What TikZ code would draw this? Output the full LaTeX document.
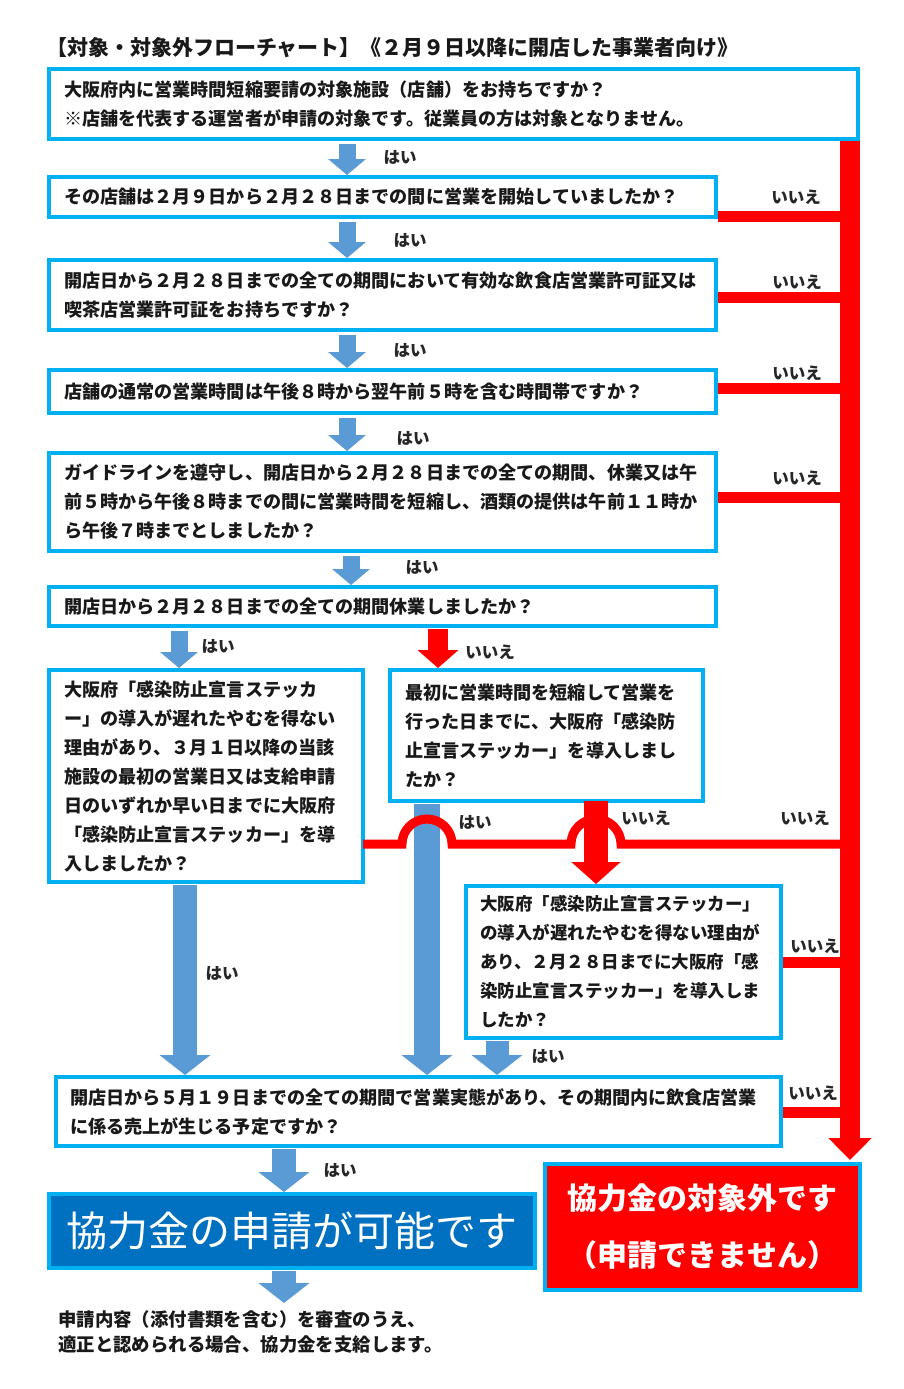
\documentclass[tikz,border=0pt]{standalone}
\usepackage{fontspec}
\setmainfont{Noto Sans CJK JP}
\usetikzlibrary{arrows.meta,calc}
\definecolor{cyanb}{RGB}{0,176,240}
\definecolor{bluea}{RGB}{91,155,213}
\definecolor{redc}{RGB}{255,0,0}
\definecolor{blueres}{RGB}{0,112,192}
\begin{document}
\begin{tikzpicture}[x=1pt,y=1pt,
  box/.style={draw=cyanb, line width=4.5pt, fill=white, anchor=north west, outer sep=0pt,
    inner xsep=15pt, inner ysep=0pt, align=left,
    font=\fontsize{18.1}{29}\selectfont\bfseries, text=black!90},
  lab/.style={font=\fontsize{16.5}{18}\selectfont\bfseries, text=black!85, inner sep=0pt},
  bsmall/.style={draw=bluea, line width=17pt, -{Triangle[length=16pt,width=37pt]}, shorten <=5pt, shorten >=2pt},
  bbig/.style={draw=bluea, line width=24pt, -{Triangle[length=20pt,width=50pt]}, shorten <=3pt, shorten >=2pt},
  rarrow/.style={draw=redc, line width=20pt, -{Triangle[length=18pt,width=40pt]}, shorten <=3pt, shorten >=2pt},
  rbig/.style={draw=redc, line width=24pt, -{Triangle[length=22pt,width=48pt]}, shorten <=0pt, shorten >=2pt},
  rbus/.style={draw=redc, line width=20pt, -{Triangle[length=22pt,width=42pt]}, shorten <=2pt, shorten >=4pt},
  rline/.style={draw=redc, line width=11pt},
  rhop/.style={draw=redc, line width=9pt},
]
\fill[white] (0,0) rectangle (904,-1389);
\useasboundingbox (0,0) rectangle (904,-1389);

% title
\node[anchor=west, inner sep=0pt, font=\fontsize{21}{23}\selectfont\bfseries, text=black!90] (title) at (46,-48)
  {【対象・対象外フローチャート】《２月９日以降に開店した事業者向け》};

% coordinates for connector columns
\coordinate (busx) at (850,0);
\coordinate (busl) at (840,0);
\coordinate (ca) at (347,0);
\coordinate (cb) at (351,0);
\coordinate (c6) at (179,0);
\coordinate (cr6) at (438,0);
\coordinate (c8) at (427,0);
\coordinate (c7) at (185,0);
\coordinate (cr8) at (596,0);
\coordinate (c9) at (497,0);
\coordinate (c10) at (284,0);
\coordinate (endarr) at (284,-1305);

% red branches (under boxes and bus)
\draw[rline] (718,-216) -- (busx |- 0,-216);
\draw[rline] (718,-297) -- (busx |- 0,-297);
\draw[rline] (718,-388) -- (busx |- 0,-388);
\draw[rline] (718,-497) -- (busx |- 0,-497);
\draw[rline] (783,-962) -- (busx |- 0,-962);
\draw[rline] (783,-1112) -- (busx |- 0,-1112);

% boxes
\node[box, minimum width=809pt, minimum height=70pt, text width=779pt] (b1) at (49,-69)
  {大阪府内に営業時間短縮要請の対象施設（店舗）をお持ちですか？\\※店舗を代表する運営者が申請の対象です。従業員の方は対象となりません。};
\node[box, minimum width=667pt, minimum height=40pt, text width=637pt] (b2) at (49,-177)
  {その店舗は２月９日から２月２８日までの間に営業を開始していましたか？};
\node[box, minimum width=667pt, minimum height=70pt, text width=637pt] (b3) at (49,-260)
  {開店日から２月２８日までの全ての期間において有効な飲食店営業許可証又は\\喫茶店営業許可証をお持ちですか？};
\node[box, minimum width=667pt, minimum height=43pt, text width=637pt] (b4) at (49,-370)
  {店舗の通常の営業時間は午後８時から翌午前５時を含む時間帯ですか？};
\node[box, minimum width=667pt, minimum height=98pt, text width=637pt] (b5) at (49,-453)
  {ガイドラインを遵守し、開店日から２月２８日までの全ての期間、休業又は午\\前５時から午後８時までの間に営業時間を短縮し、酒類の提供は午前１１時か\\ら午後７時までとしましたか？};
\node[box, minimum width=667pt, minimum height=39pt, text width=637pt] (b6) at (49,-587)
  {開店日から２月２８日までの全ての期間休業しましたか？};
\node[box, minimum width=314pt, minimum height=212pt, text width=284pt] (b7) at (49,-670)
  {大阪府「感染防止宣言ステッカ\\ー」の導入が遅れたやむを得ない\\理由があり、３月１日以降の当該\\施設の最初の営業日又は支給申請\\日のいずれか早い日までに大阪府\\「感染防止宣言ステッカー」を導\\入しましたか？};
\node[box, minimum width=313pt, minimum height=131pt, text width=283pt] (b8) at (390,-670)
  {最初に営業時間を短縮して営業を\\行った日までに、大阪府「感染防\\止宣言ステッカー」を導入しまし\\たか？};
\node[box, minimum width=315pt, minimum height=152pt, text width=287pt, inner xsep=14pt,
  font=\fontsize{17.5}{29}\selectfont\bfseries] (b9) at (466,-886)
  {大阪府「感染防止宣言ステッカー」\\の導入が遅れたやむを得ない理由が\\あり、２月２８日までに大阪府「感\\染防止宣言ステッカー」を導入しま\\したか？};
\node[box, minimum width=725pt, minimum height=69pt, text width=697pt, inner xsep=14pt] (b10) at (56,-1077)
  {開店日から５月１９日までの全ての期間で営業実態があり、その期間内に飲食店営業\\に係る売上が生じる予定ですか？};
\node[box, fill=blueres, minimum width=486pt, minimum height=74pt, text width=470pt, inner xsep=8pt,
  align=center, text=white, font=\fontsize{41}{44}\selectfont] (ok) at (49,-1194)
  {協力金の申請が可能です};
\node[box, fill=redc, minimum width=315pt, minimum height=126pt, text width=300pt, inner xsep=7pt,
  align=center, text=white, font=\fontsize{30}{57}\selectfont\bfseries] (ng) at (545,-1164)
  {協力金の対象外です\\（申請できません）};

% red bus
\draw[rbus] (b1.south -| busx) -- (ng.north -| busx);

% blue arrows main column
\draw[bsmall] (b1.south -| ca) -- (b2.north -| ca);
\draw[bsmall] (b2.south -| ca) -- (b3.north -| ca);
\draw[bsmall] (b3.south -| ca) -- (b4.north -| ca);
\draw[bsmall] (b4.south -| ca) -- (b5.north -| ca);
\draw[bsmall] (b5.south -| cb) -- (b6.north -| cb);
\draw[bsmall] (b6.south -| c6) -- (b7.north -| c6);
\draw[rarrow] (b6.south -| cr6) -- (b8.north -| cr6);

% lower part
\draw[bbig] (b7.south -| c7) -- (b10.north -| c7);
\draw[bbig, line width=26pt] (b8.south -| c8) -- (b10.north -| c8);
\draw[bbig, line width=23pt] (b9.south -| c9) -- (b10.north -| c9);
\draw[bbig] (b10.south -| c10) -- (ok.north -| c10);
\draw[bbig] (ok.south -| c10) -- (endarr);

% red line with hops from b7 to bus
\draw[rhop] (b7.east |- 0,-844) -- ($(c8 |- 0,-844)+(-25,0)$)
  arc[start angle=180, end angle=0, radius=25pt]
  -- ($(cr8 |- 0,-844)+(-25,0)$)
  arc[start angle=180, end angle=0, radius=25pt]
  -- (busl |- 0,-844);
\draw[rbig] (b8.south -| cr8) -- (b9.north -| cr8);

% labels
\node[lab] (y1) at (400,-157) {はい};
\node[lab] (y2) at (410,-240) {はい};
\node[lab] (y3) at (410,-350) {はい};
\node[lab] (y4) at (413,-438) {はい};
\node[lab] (y5) at (422,-567) {はい};
\node[lab] (y6) at (218,-646) {はい};
\node[lab] (y7) at (475,-822) {はい};
\node[lab] (y8) at (222,-973) {はい};
\node[lab] (y9) at (548,-1056) {はい};
\node[lab] (y10) at (340,-1170) {はい};
\node[lab] (n1) at (796,-197) {いいえ};
\node[lab] (n2) at (797,-282) {いいえ};
\node[lab] (n3) at (797,-373) {いいえ};
\node[lab] (n4) at (797,-478) {いいえ};
\node[lab] (n5) at (490,-652) {いいえ};
\node[lab] (n6) at (646,-818) {いいえ};
\node[lab] (n7) at (805,-818) {いいえ};
\node[lab] (n8) at (815,-946) {いいえ};
\node[lab] (n9) at (813,-1093) {いいえ};

% bottom note
\node[anchor=west, inner sep=0pt, align=left, font=\fontsize{18.4}{25}\selectfont\bfseries, text=black!90] (note) at (58,-1332)
  {申請内容（添付書類を含む）を審査のうえ、\\適正と認められる場合、協力金を支給します。};
\end{tikzpicture}
\end{document}
